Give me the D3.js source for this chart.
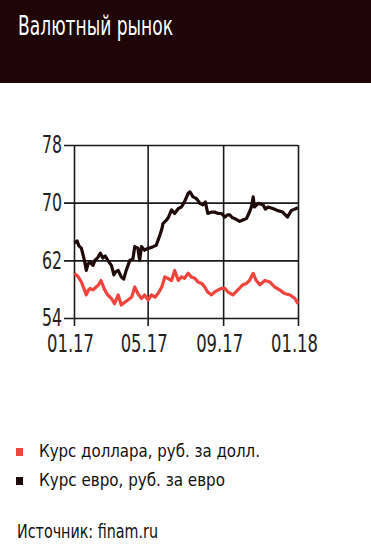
<!DOCTYPE html>
<html>
<head>
<meta charset="utf-8">
<script src="https://cdn.jsdelivr.net/npm/d3@7"></script>
<style>
  body { margin: 0; background: #fff; overflow: hidden; }
  svg { display: block; }
  text { font-family: "DejaVu Sans Condensed", "DejaVu Sans", sans-serif; }
</style>
</head>
<body>
<svg></svg>
<script>
const W = 371, H = 552;
const margin = {top: 145, left: 74};
const innerWidth = 224;
const innerHeight = 173;

// курс евро
const euroDates = ['2017-01-02','2017-01-06','2017-01-09','2017-01-13','2017-01-18','2017-01-21','2017-01-24','2017-01-27','2017-02-01','2017-02-04','2017-02-09','2017-02-13','2017-02-17','2017-02-21','2017-02-25',
  '2017-03-03','2017-03-07','2017-03-10','2017-03-14','2017-03-19','2017-03-23','2017-03-27','2017-04-02','2017-04-07','2017-04-10','2017-04-15',
  '2017-04-18','2017-04-21','2017-04-26','2017-05-02','2017-05-04','2017-05-10','2017-05-15','2017-05-21','2017-05-24','2017-05-26','2017-06-01',
  '2017-06-04','2017-06-09','2017-06-14','2017-06-20','2017-06-25','2017-06-30','2017-07-06','2017-07-09','2017-07-14','2017-07-19',
  '2017-07-22','2017-07-25','2017-07-30','2017-08-03','2017-08-07','2017-08-13','2017-08-18','2017-08-24','2017-08-29','2017-09-04','2017-09-08','2017-09-12',
  '2017-09-16','2017-09-20','2017-09-28','2017-10-03','2017-10-09','2017-10-14','2017-10-17','2017-10-20','2017-10-22','2017-10-28','2017-11-05',
  '2017-11-09','2017-11-13','2017-11-21','2017-11-29','2017-12-07','2017-12-15','2017-12-21','2017-12-29','2018-01-01'];
const euroValues = [64.4,64.7,64.0,63.7,62.0,60.6,61.5,61.75,61.3,62.0,62.4,63.0,62.3,62.6,62.0,
  61.3,60.0,60.4,60.6,59.7,59.4,60.6,62.0,62.2,63.9,63.7,
  62.0,63.9,63.4,63.7,63.7,63.9,64.1,65.5,66.3,67.1,67.6,
  68.0,69.0,68.5,69.2,69.4,70.1,71.3,71.5,70.8,70.6,
  70.3,69.9,69.7,70.1,68.5,68.7,68.7,68.5,68.5,68.0,68.3,68.3,
  67.9,67.8,67.4,67.6,67.8,68.7,69.4,70.8,69.4,69.9,69.7,
  69.1,69.4,69.2,68.9,68.7,68.0,68.9,69.2,69.3];

// курс доллара
const usdDates = ['2017-01-02','2017-01-08','2017-01-13','2017-01-18','2017-01-21','2017-01-24','2017-01-27','2017-02-01','2017-02-06','2017-02-10','2017-02-14','2017-02-20',
  '2017-02-25','2017-03-03','2017-03-08','2017-03-14','2017-03-19','2017-03-25','2017-03-30','2017-04-05','2017-04-10','2017-04-15',
  '2017-04-21','2017-04-26','2017-05-02','2017-05-07','2017-05-13','2017-05-18','2017-05-24','2017-05-29','2017-06-03','2017-06-09',
  '2017-06-14','2017-06-20','2017-06-25','2017-06-30','2017-07-06','2017-07-11','2017-07-17','2017-07-22','2017-07-28','2017-08-02',
  '2017-08-07','2017-08-13','2017-08-18','2017-08-24','2017-08-29','2017-09-04','2017-09-09','2017-09-17','2017-09-25','2017-10-03',
  '2017-10-09','2017-10-14','2017-10-20','2017-10-25','2017-10-31','2017-11-08','2017-11-16','2017-11-24','2017-12-02','2017-12-10',
  '2017-12-19','2017-12-27','2018-01-01'];
const usdValues = [60.2,59.7,59.0,57.9,57.2,57.8,58.1,57.9,58.3,58.6,59.2,57.9,
  57.2,56.7,56.0,57.2,55.8,56.2,56.5,56.9,58.3,57.4,
  56.7,57.2,56.5,57.2,56.9,57.4,58.3,59.7,59.5,59.2,
  60.6,59.2,59.7,59.5,60.2,59.7,59.5,59.0,58.8,58.3,
  57.6,57.2,57.6,57.9,58.1,58.1,57.6,57.2,57.9,58.6,
  58.8,59.2,60.2,59.2,58.6,59.2,59.0,58.3,57.9,57.4,
  57.2,56.7,56.0];

const yTicks = [54, 62, 70, 78];
const xTicks = ['2017-01-01', '2017-05-01', '2017-09-01', '2018-01-01'];
const legendLabels = ['Курс доллара, руб. за долл.', 'Курс евро, руб. за евро'];
const colors = ['#f2433d', '#1e0a08'];

const parse = d3.timeParse('%Y-%m-%d');

const svg = d3.select('svg')
  .attr('width', W)
  .attr('height', H);

// шапка
svg.append('rect')
  .attr('width', W).attr('height', 83)
  .attr('fill', '#1f0505');
svg.append('text')
  .attr('x', 18).attr('y', 35)
  .attr('fill', '#fff')
  .style('font-size', '27px')
  .attr('textLength', 155).attr('lengthAdjust', 'spacingAndGlyphs')
  .text('Валютный рынок');

const x = d3.scaleTime()
  .domain([parse(xTicks[0]), parse(xTicks[3])])
  .range([0, innerWidth]);
const y = d3.scaleLinear()
  .domain([54, 78])
  .range([innerHeight, 0]);

const g = svg.append('g')
  .attr('transform', `translate(${margin.left}, ${margin.top})`);

const yAxis = g.append('g')
  .call(d3.axisLeft(y).tickValues(yTicks).tickSize(10).tickPadding(2).tickFormat(d3.format('d')));
yAxis.select('.domain').remove();
yAxis.selectAll('line').attr('x1', innerWidth).attr('stroke', '#1a1a1a').attr('stroke-width', 1.6);
yAxis.selectAll('text').style('font-size', '24px').attr('fill', '#222')
  .attr('textLength', 20).attr('lengthAdjust', 'spacingAndGlyphs');

const xAxis = g.append('g')
  .attr('transform', `translate(0, ${innerHeight})`)
  .call(d3.axisBottom(x).tickValues(xTicks.map(parse)).tickSize(8).tickPadding(9).tickFormat(d3.timeFormat('%m.%y')));
xAxis.select('.domain').remove();
xAxis.selectAll('line').attr('y1', -innerHeight).attr('stroke', '#1a1a1a').attr('stroke-width', 1.6);
xAxis.selectAll('text').style('font-size', '24px').attr('fill', '#222').attr('dx', -4)
  .attr('textLength', 47).attr('lengthAdjust', 'spacingAndGlyphs');

const line = d3.line()
  .x(d => x(d[0]))
  .y(d => y(d[1]));

const series = [
  d3.zip(usdDates.map(parse), usdValues),
  d3.zip(euroDates.map(parse), euroValues)
];

g.selectAll('.series').data(series)
  .enter().append('path')
  .attr('class', 'series')
  .attr('fill', 'none')
  .attr('stroke', (d, i) => colors[i])
  .attr('stroke-width', 3.2)
  .attr('stroke-linejoin', 'round')
  .attr('d', line);

// легенда
const legendWidths = [221, 186];
const legend = svg.selectAll('.legend').data(legendLabels)
  .enter().append('g')
  .attr('class', 'legend')
  .attr('transform', (d, i) => `translate(16, ${448 + i * 29})`);
legend.append('rect')
  .attr('width', 7).attr('height', 8)
  .attr('fill', (d, i) => colors[i]);
legend.append('text')
  .attr('x', 23).attr('y', 9)
  .style('font-size', '17px')
  .attr('fill', '#111')
  .attr('textLength', (d, i) => legendWidths[i]).attr('lengthAdjust', 'spacingAndGlyphs')
  .text(d => d);

svg.append('text')
  .attr('x', 17).attr('y', 538)
  .style('font-size', '20px')
  .attr('fill', '#111')
  .attr('textLength', 141).attr('lengthAdjust', 'spacingAndGlyphs')
  .text('Источник: finam.ru');
</script>
</body>
</html>
